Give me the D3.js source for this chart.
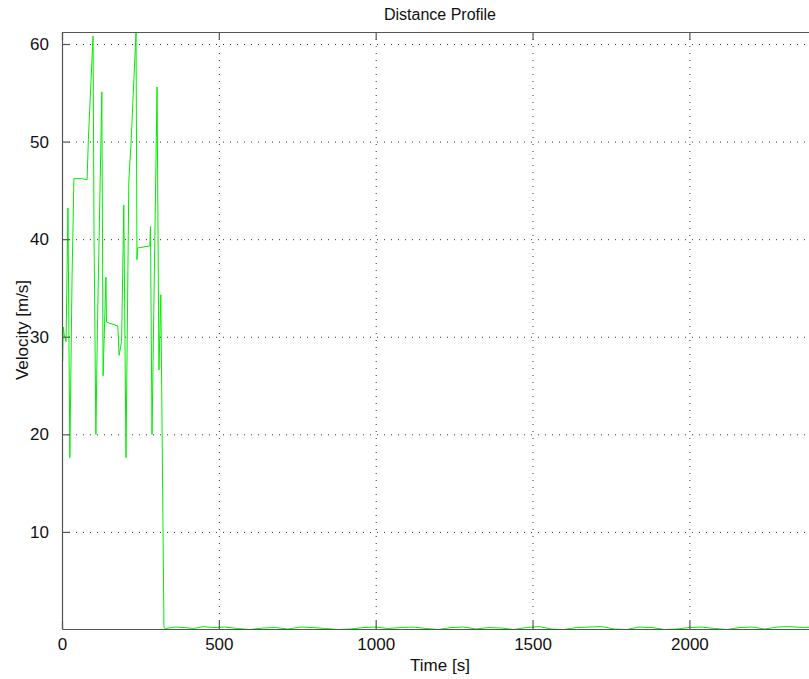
<!DOCTYPE html>
<html>
    <head>
        <meta charset="utf-8">
        <style>
            body { margin: 0; background: #fff; }
            svg { display: block; font-family: "Liberation Sans", Arial, sans-serif; }
        </style>
    </head>
    <body>
        <svg></svg>
        <script src="https://cdn.jsdelivr.net/npm/d3@7"></script>
        <script>
            // velocity samples
            const times = [0, 2, 4, 7, 13, 19, 25, 32, 38, 62, 80, 84, 99, 102, 108, 113, 127, 131, 140, 142, 178, 182, 190, 197, 204, 213, 220, 236, 239, 241, 280, 282, 287, 303, 309, 315, 325, 330,
                360, 390, 420, 450, 480, 520, 560, 600, 640, 680, 720, 760, 800, 840, 880, 920, 960, 1000, 1040, 1080, 1120, 1160, 1200, 1240, 1280, 1320, 1360,
                1400, 1440, 1480, 1520, 1560, 1600, 1640, 1680, 1720, 1760, 1800, 1840, 1880, 1920, 1960, 2000, 2040, 2080, 2120, 2160, 2200, 2240, 2280, 2320, 2360, 2400];
            const velocity = [35.7, 27.5, 31, 30.2, 29.5, 43.2, 17.6, 36, 46.2, 46.2, 46.1, 50.2, 60.8, 40.9, 20, 31, 55.1, 26, 36.1, 31.5, 31.1, 28.1, 29.5, 43.5, 17.6, 46, 49.8, 61.2, 37.9, 39.1, 39.3, 41.3, 20, 55.6, 26.6, 34.3, 0.2, 0.1,
                0.25, 0.2, 0.1, 0.3, 0.2, 0.25, 0.1, 0, 0.15, 0.2, 0.05, 0.25, 0.2, 0.1, 0, 0.05, 0.2, 0.25, 0.1, 0.2, 0.25, 0.1, 0, 0.2, 0.25, 0.05, 0.2,
                0.15, 0, 0.2, 0.3, 0.05, 0, 0.2, 0.25, 0.3, 0.05, 0, 0.25, 0.2, 0, 0.05, 0.2, 0.25, 0.1, 0, 0.2, 0.25, 0.05, 0.25, 0.3, 0.2, 0.25];
            const xTicks = [0, 500, 1000, 1500, 2000];
            const yTicks = [10, 20, 30, 40, 50, 60];

            const width = 809;
            const height = 679;
            const margin = {left: 62, top: 32, right: 818, bottom: 629};

            const svg = d3.select('svg')
                .attr('width', width).attr('height', height);

            const x = d3.scaleLinear().domain([0, 2410]).range([margin.left, margin.right]);
            const y = d3.scaleLinear().domain([0.05, 61.23]).range([margin.bottom, margin.top]);

            svg.append('defs').append('clipPath').attr('id', 'plot')
                .append('rect')
                .attr('x', margin.left).attr('y', margin.top)
                .attr('width', margin.right - margin.left).attr('height', margin.bottom - margin.top);

            // dotted grid
            const grid = svg.append('g')
                .attr('stroke', '#333')
                .attr('stroke-width', 1)
                .attr('stroke-dasharray', '1,6');
            grid.selectAll('.gx').data(xTicks).enter().append('line')
                .attr('x1', d => x(d) + 0.5).attr('x2', d => x(d) + 0.5)
                .attr('y1', margin.top).attr('y2', margin.bottom);
            grid.selectAll('.gy').data(yTicks).enter().append('line')
                .attr('x1', margin.left).attr('x2', margin.right)
                .attr('y1', d => y(d) + 0.5).attr('y2', d => y(d) + 0.5);

            const line = d3.line()
                .x((d, i) => x(times[i]))
                .y(d => y(d));

            svg.append('path')
                .datum(velocity)
                .attr('clip-path', 'url(#plot)')
                .attr('d', line)
                .attr('fill', 'none')
                .attr('stroke', '#00ee00')
                .attr('stroke-width', 1);

            // axes, ticks pointing inwards like matlab
            const bottomAxis = d3.axisBottom(x).tickValues(xTicks).tickFormat(d3.format('d')).tickSizeInner(-8).tickSizeOuter(0).tickPadding(9);
            const leftAxis = d3.axisLeft(y).tickValues(yTicks).tickSizeInner(-8).tickSizeOuter(0).tickPadding(13);
            const topAxis = d3.axisTop(x).tickValues(xTicks).tickSizeInner(-8).tickSizeOuter(0).tickFormat('');

            const styleAxis = g => {
                g.selectAll('path, line').attr('stroke', '#555').attr('stroke-width', 1.2);
                g.selectAll('text').attr('fill', '#111').style('font-size', '17px').style('font-family', '"Liberation Sans", Arial, sans-serif');
            };

            svg.append('g').attr('transform', `translate(0,${margin.bottom})`).call(bottomAxis).call(styleAxis);
            svg.append('g').attr('transform', `translate(${margin.left},0)`).call(leftAxis).call(styleAxis);
            svg.append('g').attr('transform', `translate(0,${margin.top})`).call(topAxis).call(styleAxis);

            svg.append('text')
                .attr('x', 440).attr('y', 20)
                .attr('text-anchor', 'middle')
                .style('font-size', '16px')
                .attr('fill', '#111')
                .text('Distance Profile');

            svg.append('text')
                .attr('x', 440).attr('y', 671)
                .attr('text-anchor', 'middle')
                .style('font-size', '17px')
                .attr('fill', '#111')
                .text('Time [s]');

            svg.append('text')
                .attr('transform', 'translate(28,330) rotate(-90)')
                .attr('text-anchor', 'middle')
                .style('font-size', '17px')
                .attr('fill', '#111')
                .text('Velocity [m/s]');
        </script>
    </body>
</html>
